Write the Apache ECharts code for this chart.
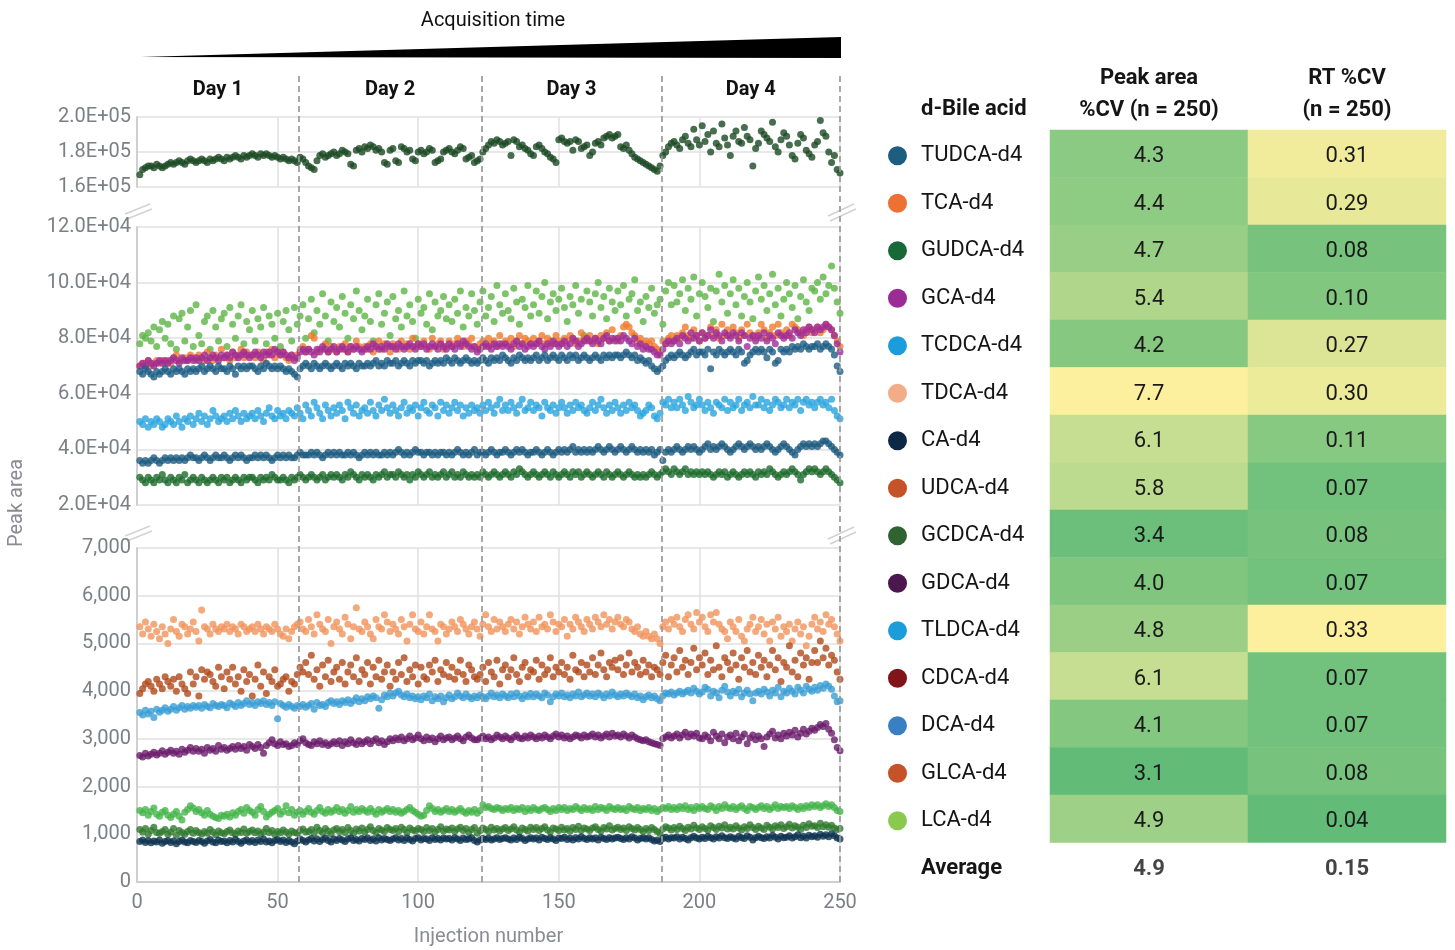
<!DOCTYPE html>
<html><head><meta charset="utf-8">
<script src="https://cdn.jsdelivr.net/npm/echarts@6/dist/echarts.min.js"></script>
<style>html,body{margin:0;padding:0;background:#fff}#c{width:1455px;height:950px}</style>
</head><body><div id="c"></div>
<script>
// ---------------- DATA ----------------
const dayBounds = [0, 57.5, 122.5, 186.5, 250];
const dayLabels = ['Day 1', 'Day 2', 'Day 3', 'Day 4'];

// Table
const acids = ['TUDCA-d4','TCA-d4','GUDCA-d4','GCA-d4','TCDCA-d4','TDCA-d4','CA-d4','UDCA-d4','GCDCA-d4','GDCA-d4','TLDCA-d4','CDCA-d4','DCA-d4','GLCA-d4','LCA-d4'];
const acidColors = ['#1c5d80','#ed7132','#176a37','#9b2b95','#1c9ddb','#f2ac88','#0c2844','#c55229','#2f6331','#4c174f','#1c9ddb','#7f1519','#3a7fc4','#c55229','#8bc94e'];
const peakAreaCV = [4.3,4.4,4.7,5.4,4.2,7.7,6.1,5.8,3.4,4.0,4.8,6.1,4.1,3.1,4.9];
const rtCV = [0.31,0.29,0.08,0.10,0.27,0.30,0.11,0.07,0.08,0.07,0.33,0.07,0.07,0.08,0.04];
const averages = [4.9, 0.15];
const tableHeaders = ['Peak area\n%CV (n = 250)', 'RT %CV\n(n = 250)'];

// Peak areas per injection 1..250 (top & middle panels in thousands, bottom panel raw)
const gudcaK = [
167,170,171,172,172,171,173,172,171,172,
173,174,173,174,175,174,173,175,176,175,
174,175,176,175,174,176,175,176,177,176,
175,177,176,177,178,177,176,178,177,178,
179,178,177,179,178,179,178,177,178,177,
176,177,176,175,176,175,174,177,176,174,
172,171,170,175,178,179,177,178,179,180,
178,179,181,180,179,173,172,181,182,180,
183,182,184,183,181,182,180,174,173,181,
182,175,174,183,182,180,181,176,175,180,
181,179,180,182,181,174,175,176,180,181,
182,180,179,181,183,182,176,177,178,174,
175,176,180,182,184,186,185,187,186,184,
185,186,178,187,186,183,184,182,181,179,
178,183,184,182,180,179,177,176,174,187,
188,186,185,186,181,187,186,182,183,184,
178,180,185,186,184,188,189,190,188,189,
190,183,182,184,181,179,177,176,175,174,
173,172,171,170,169,172,178,180,183,185,
186,184,182,187,189,185,183,193,187,184,
195,186,190,180,192,185,183,196,188,184,
178,189,192,186,185,194,189,187,172,182,
185,192,190,188,186,197,183,180,187,191,
189,184,178,176,185,190,188,181,179,177,
184,186,198,191,189,180,174,178,170,168];

const lcaK = [
78,81,80,82,79,84,77,83,86,80,
85,78,88,76,87,89,79,84,90,77,
92,81,78,86,88,76,90,84,79,87,
89,77,91,85,80,88,92,78,86,83,
90,79,87,84,91,78,88,85,80,89,
77,86,90,83,79,91,85,88,92,80,
87,94,82,90,85,96,88,79,93,86,
91,84,95,89,80,92,87,97,90,83,
88,94,86,79,92,96,85,89,93,81,
95,87,90,84,97,88,92,86,80,94,
89,91,85,96,83,93,88,90,95,87,
92,86,94,89,97,84,91,88,96,90,
85,93,97,88,91,95,86,99,92,89,
96,90,87,98,93,85,94,91,99,88,
92,97,89,95,100,87,93,96,90,94,
98,91,86,95,92,99,89,94,81,97,
93,88,96,100,91,95,87,98,93,90,
97,92,99,88,94,96,101,90,93,86,
95,91,98,89,92,94,85,97,100,92,
99,93,96,101,90,98,94,102,88,96,
100,95,91,98,86,97,103,93,99,89,
96,101,92,98,88,95,100,93,87,97,
102,94,99,90,96,103,92,98,88,94,
100,96,91,99,87,95,101,93,90,98,
97,100,94,102,96,99,106,98,93,89];

const tcaK = [
70,71,71,72,70,71,72,71,72,71,
72,71,73,74,72,72,73,72,74,73,
72,74,73,72,75,73,72,74,73,76,
73,74,72,75,73,74,76,73,75,74,
74,73,75,74,72,75,74,76,73,75,
74,75,73,72,74,73,74,76,77,75,
76,81,80,75,76,76,78,75,77,76,
75,77,76,78,75,77,76,79,77,76,
77,76,78,75,77,79,76,78,77,75,
78,77,76,79,77,78,76,80,77,78,
77,79,77,76,80,77,78,79,76,77,
79,77,78,80,78,77,79,78,80,77,
76,78,79,77,80,78,79,77,81,78,
79,78,80,77,79,81,78,80,79,78,
80,78,79,81,78,80,79,78,81,79,
78,80,79,81,80,78,79,82,80,79,
81,79,80,78,81,80,82,79,83,80,
79,81,84,85,84,82,81,79,80,78,
79,78,79,77,76,75,79,78,80,81,
79,81,80,82,84,81,80,83,81,79,
82,80,81,84,81,83,80,85,81,83,
81,84,82,80,83,81,85,82,81,80,
82,85,83,80,82,84,81,85,82,81,
83,81,85,84,83,82,81,83,84,82,
83,84,82,83,85,84,83,81,79,77];

const gcaK = [
70,71,70,72,71,70,71,72,71,72,
71,72,73,72,71,73,72,72,73,72,
73,72,73,74,72,73,74,73,72,74,
73,74,73,75,74,73,74,75,74,73,
74,75,74,73,75,74,75,74,76,75,
74,75,74,73,74,72,73,75,76,75,
76,75,74,76,75,77,76,75,76,77,
75,76,77,76,75,77,76,77,76,75,
76,77,76,78,77,76,77,76,78,77,
77,76,78,77,76,77,78,77,76,78,
77,78,76,77,78,77,76,78,77,76,
78,77,76,78,77,79,78,77,76,77,
75,76,77,78,77,76,78,77,78,77,
78,77,76,78,79,77,78,76,77,78,
77,78,79,77,76,78,77,79,78,77,
78,79,77,78,80,79,77,78,79,80,
79,78,80,79,78,80,81,79,80,79,
80,79,81,80,79,78,80,77,78,76,
77,76,76,75,74,74,76,78,79,78,
79,80,78,81,80,79,82,80,81,79,
82,80,81,83,80,82,81,79,82,81,
80,82,81,79,82,81,77,80,81,79,
81,80,82,79,81,80,78,82,81,80,
81,82,80,83,82,81,83,82,84,83,
82,84,83,84,85,84,83,81,78,75];

const tudcaK = [
68,67,69,68,67,66,68,67,68,69,
68,67,69,68,69,68,67,69,68,69,
68,69,70,68,69,70,69,68,70,69,
69,68,70,69,67,70,69,70,69,70,
70,69,68,70,69,71,70,69,70,69,
70,69,68,69,68,67,66,69,70,71,
70,69,71,70,69,70,71,70,69,70,
71,70,69,71,70,71,70,69,71,70,
70,71,70,71,72,70,71,70,72,71,
71,72,70,71,72,71,70,72,71,72,
72,71,72,70,71,72,71,72,71,73,
72,71,73,72,71,72,73,72,71,72,
71,72,73,72,71,73,72,73,72,74,
73,72,71,73,72,74,73,72,73,72,
73,74,72,73,74,72,73,74,73,72,
74,73,72,74,73,74,72,73,74,73,
72,73,74,73,72,74,73,74,73,74,
74,73,74,75,74,73,74,72,73,72,
71,72,70,69,68,69,70,72,73,74,
73,74,75,74,73,74,75,76,74,75,
75,74,76,69,75,74,76,75,74,75,
76,75,74,76,75,71,72,74,75,76,
75,76,75,73,76,75,71,72,76,75,
76,75,77,76,77,76,78,77,76,77,
77,78,76,77,78,77,76,74,70,68];

const tcdcaK = [
50,49,51,48,50,49,51,50,48,49,
51,50,49,52,50,48,51,50,52,49,
51,53,50,52,49,51,54,52,50,51,
52,50,53,51,54,52,50,53,51,52,
53,51,54,52,50,53,55,52,51,54,
52,53,51,54,53,52,55,53,51,56,
54,52,57,55,53,51,56,54,52,55,
53,56,54,51,57,55,53,56,52,54,
55,53,57,54,52,56,54,58,55,53,
56,54,52,55,57,53,55,54,56,52,
55,57,54,53,56,55,52,57,54,56,
53,55,57,54,56,52,55,53,56,54,
55,53,56,54,57,55,53,56,58,54,
56,54,57,55,53,56,58,54,55,57,
54,56,55,52,57,55,54,56,53,55,
57,55,53,56,54,57,55,56,54,53,
55,57,54,56,58,55,53,56,54,57,
55,53,56,54,57,55,56,54,52,53,
54,56,55,52,51,53,57,56,58,55,
57,55,58,56,54,59,57,55,56,58,
56,54,57,55,53,57,56,55,58,54,
57,55,56,58,54,56,57,55,59,56,
56,58,55,57,54,56,58,57,55,56,
58,55,57,56,58,54,57,58,56,57,
55,57,58,56,57,55,58,54,52,51];

const dcaK = [
36,35,36,35,36,37,36,35,36,37,
36,37,36,37,36,37,36,37,38,37,
37,36,37,38,37,36,37,38,37,37,
38,37,36,37,38,37,38,37,36,37,
37,38,37,38,37,38,37,36,37,38,
37,38,37,38,37,37,38,39,38,38,
38,39,38,39,38,37,38,39,38,39,
38,39,38,38,39,38,39,38,37,38,
39,38,39,38,39,38,38,39,38,39,
38,39,40,39,38,39,38,39,40,39,
39,38,39,39,38,39,38,39,39,38,
39,38,39,40,39,38,39,38,39,40,
38,39,39,38,39,40,39,38,39,39,
40,39,38,39,40,39,40,39,38,39,
39,40,39,38,39,40,39,38,39,40,
39,40,39,40,41,39,40,39,40,39,
40,39,40,41,40,39,40,41,40,39,
40,41,40,39,40,41,40,39,40,39,
40,39,40,38,39,40,36,39,40,39,
40,41,40,39,40,41,40,41,40,39,
40,41,42,40,41,40,41,42,41,40,
39,40,41,42,41,40,41,42,41,40,
41,40,41,42,41,40,39,40,41,42,
41,40,39,38,40,41,42,41,42,41,
42,41,42,43,43,42,41,40,39,38];

const gcdcaK = [
30,29,28,30,29,28,30,29,31,29,
28,30,29,28,30,29,31,28,29,30,
29,28,30,29,28,29,30,29,28,30,
29,30,28,29,30,29,28,30,29,30,
30,29,28,30,29,30,29,31,30,29,
29,30,29,28,30,29,30,31,30,29,
30,31,30,29,30,31,29,30,31,30,
31,30,29,31,30,32,31,30,29,31,
30,31,30,29,31,30,31,32,30,31,
31,30,32,31,30,31,29,31,30,32,
31,30,31,32,30,31,30,31,32,30,
31,32,30,31,30,32,31,30,31,30,
31,30,32,31,30,31,32,31,30,31,
32,31,30,32,31,33,32,31,30,31,
32,31,30,31,32,31,30,32,31,30,
31,32,31,30,32,31,32,30,31,32,
31,30,31,32,31,30,32,31,30,31,
32,31,30,31,32,31,30,31,30,31,
30,31,32,31,30,31,32,33,32,31,
33,32,31,32,33,31,32,31,32,31,
32,31,32,31,30,31,32,31,32,30,
31,32,31,30,31,32,31,32,31,30,
32,31,32,31,33,32,31,30,31,32,
31,32,33,32,31,29,31,32,33,32,
33,32,31,32,33,32,31,30,29,28];

const tdca = [
5350,5200,5450,5300,5150,5400,5250,5100,5350,5200,
5000,5300,5500,5250,5150,5400,5350,5200,5300,5450,
5250,5050,5700,5350,5300,5200,5400,5300,5250,5350,
5300,5400,5250,5350,5300,5200,5400,5350,5250,5300,
5350,5250,5400,5300,5200,5350,5300,5250,5400,5300,
5200,5150,5300,5100,5250,5350,5400,5450,5300,5250,
5500,5350,5200,5600,5400,5300,5250,5500,5000,5350,
5450,5300,5200,5550,5400,5100,5350,5750,5300,5250,
5450,5350,5200,5100,5500,5350,5300,5600,5450,5250,
5400,5300,5200,5500,5350,5050,5400,5600,5300,5250,
5450,5200,5350,5600,5300,5250,5050,5400,5350,5200,
5300,5450,5350,5250,5500,5400,5300,5200,5350,5450,
5300,5150,5400,5600,5350,5250,5500,5300,5450,5350,
5250,5400,5500,5300,5450,5200,5350,5550,5400,5300,
5450,5250,5550,5350,5400,5300,5600,5450,5250,5400,
5350,5500,5150,5400,5300,5550,5450,5350,5250,5500,
5400,5300,5550,5450,5350,5600,5400,5500,5300,5450,
5550,5400,5350,5500,5450,5300,5250,5350,5200,5150,
5250,5150,5100,5200,5100,5000,5350,5450,5300,5500,
5400,5550,5350,5250,5500,5600,5400,5300,5650,5450,
5550,5350,5250,5600,5450,5650,5400,5300,5250,5100,
5450,5350,5250,5500,5150,5050,5300,5400,5550,5250,
5350,5500,5200,5400,5050,5450,5300,5550,5150,5350,
5250,5400,5050,5300,5450,5200,5350,4950,5150,5400,
5550,5300,5450,5250,5600,5400,5500,5350,5200,5050];

const udca = [
3950,4050,4150,4200,4100,4000,4250,4150,4050,4300,
4200,4100,4250,4000,4300,4150,4050,3950,4400,4150,
4300,3900,4450,4250,4400,4350,4200,4100,4500,4300,
4050,4400,4250,4500,4150,4300,4000,4450,4200,4350,
3900,4250,4550,4100,4400,3950,4300,4200,4450,4100,
4150,4250,4300,4000,4200,4150,4350,4500,4400,4600,
4350,4750,4250,4450,4100,4550,4300,4650,4200,4400,
4500,4250,4600,4150,4400,4550,4300,4700,4200,4450,
4350,4600,4150,4500,4300,4650,4250,4400,4550,4100,
4400,4250,4600,4350,4700,4200,4450,4300,4550,4150,
4500,4300,4250,4550,4400,4650,4200,4450,4350,4600,
4300,4500,4250,4400,4650,4350,4200,4550,4450,4300,
4250,4350,4500,4200,4600,4400,4300,4650,4150,4450,
4550,4300,4450,4700,4350,4200,4500,4600,4300,4450,
4400,4650,4250,4550,4350,4450,4700,4300,4500,4400,
4600,4350,4500,4250,4750,4450,4400,4600,4300,4550,
4400,4700,4350,4550,4800,4450,4300,4600,4500,4650,
4450,4700,4350,4550,4800,4400,4600,4500,4350,4650,
4400,4550,4300,4500,4450,4350,4600,4750,4300,4550,
4700,4400,4850,4500,4650,4350,4600,4900,4450,4700,
4550,4800,4350,4650,4450,4950,4500,4300,4700,4600,
4450,4800,4550,4250,4700,4500,4850,4400,4600,4350,
4750,4500,4650,4300,4550,4850,4450,4700,4200,4600,
4500,4950,4400,4650,4300,4800,4550,4700,4250,4600,
4850,4600,5050,4700,4900,4550,4750,4650,4400,4250];

const tldca = [
3550,3500,3600,3520,3580,3450,3620,3560,3600,3650,
3580,3620,3680,3600,3650,3700,3620,3680,3640,3700,
3660,3700,3640,3720,3680,3650,3740,3700,3680,3720,
3700,3650,3750,3720,3680,3760,3700,3740,3800,3720,
3760,3700,3780,3740,3800,3720,3760,3700,3780,3420,
3740,3700,3660,3720,3680,3640,3700,3680,3720,3660,
3700,3740,3620,3760,3700,3720,3680,3760,3800,3740,
3780,3720,3800,3760,3820,3740,3800,3860,3780,3840,
3800,3880,3840,3900,3860,3640,3820,3920,3880,3960,
3900,3960,4000,3920,3880,3940,3860,3900,3840,3880,
3820,3900,3860,3940,3800,3880,3840,3900,3780,3860,
3920,3840,3880,3960,3900,3860,3940,3880,3840,3900,
3860,3920,3880,3840,3900,3960,3880,3920,3860,3940,
3900,3860,3940,3880,3960,3900,3840,3920,3880,3950,
3880,3940,3900,3860,3960,3920,3780,3880,3940,3900,
3960,3880,3920,3860,3940,3900,3980,3880,3920,3960,
3900,3940,3880,3960,3920,3860,3940,3900,3980,3920,
3880,3940,3900,3960,3920,3880,3940,3860,3900,3820,
3880,3920,3860,3900,3840,3800,3900,3960,3940,3980,
3920,3960,4000,3940,3980,4020,3960,4060,4000,3940,
3980,4080,4040,3900,4000,3960,3860,4020,4100,3980,
3900,4000,3960,4040,3880,3960,4020,3940,3800,3960,
4000,3940,4040,3980,3900,4020,3960,4080,3880,4000,
3960,4060,4000,3940,4080,4020,3960,4100,4040,4000,
4080,4020,4120,4060,4150,4100,4040,3900,3780,3800];

const gdca = [
2650,2620,2700,2640,2680,2720,2660,2700,2750,2680,
2720,2760,2700,2740,2680,2780,2720,2760,2820,2740,
2800,2740,2780,2700,2820,2760,2800,2740,2860,2780,
2820,2760,2800,2840,2780,2860,2800,2840,2760,2880,
2840,2800,2880,2820,2700,2860,2920,2980,2900,2860,
2940,2880,2900,2840,2860,2920,2880,2960,3000,2920,
2880,2860,2940,2900,2960,2880,2920,2860,2900,2940,
2900,2960,2860,2940,2900,2980,2920,2880,2960,2900,
2940,2980,2900,2960,3000,2920,2960,2880,2940,3000,
2960,3020,2980,3040,2960,3000,3060,2980,3020,3080,
3000,2960,3040,2980,3020,2940,3000,3060,2980,3020,
3040,2980,3020,3060,3000,2960,3040,3080,3020,2980,
2980,3020,3060,3000,3040,2980,3020,3080,3040,3000,
3060,3020,2980,3040,3080,3020,3000,3060,3020,3080,
3040,3000,3060,3020,3080,3040,3000,3060,3100,3040,
3080,3020,3060,3000,3040,3080,3060,3020,3080,3040,
3060,3100,3040,3080,3020,3060,3100,3040,3120,3060,
3080,3040,3100,3060,3020,3080,3040,3000,2980,2960,
2980,2940,2920,2900,2880,2860,3000,3040,3080,3020,
3060,3100,3020,3080,3140,3040,3100,3060,3120,3020,
3000,3080,3040,2960,3140,3060,3000,3100,2920,3040,
3080,3000,3120,2960,3040,3100,2900,3020,3080,2980,
3060,3000,2840,3040,3100,3160,3020,3080,3000,3120,
3060,3140,3080,3180,3040,3120,3200,3100,3160,3220,
3180,3240,3300,3260,3320,3200,3120,2980,2820,2750];

const glca = [
1500,1450,1520,1400,1480,1550,1420,1380,1460,1500,
1400,1350,1420,1480,1380,1300,1460,1520,1600,1550,
1480,1520,1450,1400,1500,1420,1380,1350,1330,1400,
1380,1420,1360,1450,1400,1480,1520,1440,1560,1500,
1460,1400,1520,1580,1480,1360,1420,1460,1500,1540,
1420,1480,1600,1450,1520,1400,1460,1500,1420,1480,
1540,1460,1420,1500,1560,1480,1440,1520,1460,1500,
1560,1480,1520,1440,1500,1580,1460,1520,1480,1540,
1500,1460,1540,1480,1420,1520,1460,1500,1540,1480,
1520,1460,1500,1440,1480,1520,1560,1500,1460,1420,
1380,1400,1500,1600,1540,1480,1520,1460,1500,1540,
1480,1520,1460,1500,1540,1480,1440,1500,1460,1520,
1440,1500,1620,1560,1580,1540,1520,1560,1540,1500,
1540,1520,1560,1500,1540,1520,1560,1480,1540,1500,
1560,1520,1500,1540,1560,1520,1480,1540,1500,1560,
1520,1560,1500,1540,1520,1580,1540,1500,1560,1520,
1540,1500,1580,1520,1560,1540,1500,1580,1540,1520,
1560,1520,1540,1500,1580,1540,1520,1560,1500,1540,
1520,1560,1500,1540,1480,1520,1560,1540,1580,1520,
1560,1520,1580,1540,1600,1520,1560,1500,1580,1540,
1580,1540,1520,1600,1560,1500,1580,1540,1620,1560,
1540,1580,1520,1560,1600,1540,1500,1580,1560,1520,
1560,1600,1540,1580,1520,1560,1620,1540,1580,1560,
1580,1540,1600,1560,1520,1580,1540,1600,1560,1620,
1580,1620,1560,1600,1640,1580,1620,1560,1500,1480];

const cdca = [
1100,1050,1120,1000,1080,1150,1040,1020,1060,1100,
1000,1050,1120,980,1080,1040,1000,1060,1100,1020,
1080,1040,1000,1060,1020,1100,1050,990,1070,1030,
1010,1060,1090,1030,1000,1070,1040,1110,1020,1060,
1090,1030,1070,1010,1050,1120,1040,1080,1000,1060,
1030,1090,1050,1000,1070,1040,1020,1080,1110,1050,
1060,1100,1030,1150,1080,1040,1120,1070,1010,1090,
1120,1060,1100,1040,1140,1080,1020,1110,1070,1130,
1050,1100,1160,1080,1040,1120,1090,1060,1140,1100,
1080,1120,1060,1150,1100,1040,1130,1090,1070,1120,
1100,1060,1140,1080,1120,1050,1100,1160,1070,1110,
1090,1130,1060,1110,1150,1080,1120,1040,1100,1140,
1020,1080,1130,1100,1060,1150,1090,1120,1070,1110,
1140,1080,1110,1160,1090,1050,1130,1100,1070,1150,
1100,1140,1080,1120,1160,1090,1050,1130,1110,1080,
1150,1090,1120,1070,1140,1100,1170,1080,1130,1110,
1080,1130,1160,1100,1070,1140,1110,1180,1090,1120,
1150,1100,1130,1080,1160,1120,1090,1140,1100,1060,
1120,1080,1140,1100,1060,1020,1110,1160,1130,1090,
1140,1100,1170,1120,1080,1150,1110,1190,1130,1100,
1160,1120,1090,1180,1140,1100,1170,1130,1200,1110,
1150,1110,1180,1130,1090,1160,1120,1200,1140,1100,
1170,1130,1100,1190,1150,1110,1180,1140,1200,1120,
1160,1210,1130,1180,1150,1100,1190,1140,1220,1170,
1180,1140,1230,1160,1200,1150,1190,1130,1100,1120];

const ca = [
850,880,830,870,820,860,840,880,810,850,
870,830,860,800,850,880,840,820,870,850,
830,870,850,810,860,890,840,820,880,850,
860,820,870,840,890,850,810,860,880,840,
870,830,880,850,900,840,860,820,870,890,
850,880,830,870,840,800,860,900,870,840,
880,910,860,900,850,890,920,870,840,900,
870,910,880,850,900,930,870,890,860,910,
890,920,870,900,860,930,880,910,890,870,
900,930,880,910,870,920,890,860,910,930,
880,910,900,870,930,890,910,880,920,900,
910,880,930,900,870,920,890,900,930,870,
840,880,910,890,920,880,900,930,890,910,
930,900,880,920,890,940,910,870,900,930,
900,920,880,940,910,890,930,900,870,920,
910,940,890,920,880,930,900,950,910,890,
930,900,920,880,940,910,890,930,900,920,
940,910,890,930,900,950,920,880,910,930,
900,930,890,860,880,850,910,940,900,930,
920,950,900,940,910,880,930,960,920,900,
940,910,960,930,900,950,920,970,930,910,
950,920,900,960,930,910,970,940,880,930,
960,930,910,950,920,980,940,900,960,930,
940,970,920,950,990,930,960,920,980,950,
970,940,1000,960,990,950,1010,970,920,900];

// ---------------- CHART ----------------
const plotSeries = [
  {name:'GUDCA-d4', panel:0, unit:1000, color:'#1b4a23', values:gudcaK},
  {name:'LCA-d4',   panel:1, unit:1000, color:'#5db443', values:lcaK},
  {name:'TCA-d4',   panel:1, unit:1000, color:'#ef7a2c', values:tcaK},
  {name:'GCA-d4',   panel:1, unit:1000, color:'#a02c99', values:gcaK},
  {name:'TUDCA-d4', panel:1, unit:1000, color:'#1e5e84', values:tudcaK},
  {name:'TCDCA-d4', panel:1, unit:1000, color:'#29a4de', values:tcdcaK},
  {name:'DCA-d4',   panel:1, unit:1000, color:'#1d5b80', values:dcaK},
  {name:'GCDCA-d4', panel:1, unit:1000, color:'#1e6b2d', values:gcdcaK},
  {name:'TDCA-d4',  panel:2, unit:1, color:'#f1935b', values:tdca},
  {name:'UDCA-d4',  panel:2, unit:1, color:'#b0481a', values:udca},
  {name:'TLDCA-d4', panel:2, unit:1, color:'#3a9ed4', values:tldca},
  {name:'GDCA-d4',  panel:2, unit:1, color:'#6a1c6b', values:gdca},
  {name:'GLCA-d4',  panel:2, unit:1, color:'#44b54a', values:glca},
  {name:'CDCA-d4',  panel:2, unit:1, color:'#2f7a2e', values:cdca},
  {name:'CA-d4',    panel:2, unit:1, color:'#0e3350', values:ca}
];

const FONT = 'Roboto';
const AX = '#7d7f86';
const GRIDC = '#e1e1e1';
const plotLeft = 137, plotWidth = 703;

const grids = [
  {left:plotLeft, width:plotWidth, top:117, height:70},
  {left:plotLeft, width:plotWidth, top:227, height:278},
  {left:plotLeft, width:plotWidth, top:548, height:334},
  {left:plotLeft, width:plotWidth, top:72, height:810},
  {left:1050, width:396, top:130, height:760}
];

function xAx(i, showLabels) {
  return {
    type:'value', gridIndex:i, min:0, max:250, interval:50,
    axisLine:{show:showLabels, lineStyle:{color:'#cfcfcf', width:2}},
    axisTick:{show:false},
    axisLabel:{show:showLabels, fontSize:20, color:AX, margin:11, fontFamily:FONT},
    splitLine:{show:true, lineStyle:{color:GRIDC, width:1.5}},
    name: showLabels ? 'Injection number' : '',
    nameLocation:'middle', nameGap:45,
    nameTextStyle:{fontSize:20, color:'#8a8c92', fontFamily:FONT}
  };
}
function yAx(i, min, max, interval, fmt) {
  return {
    type:'value', gridIndex:i, min:min, max:max, interval:interval,
    axisLine:{show:true, lineStyle:{color:'#cfcfcf', width:2}},
    axisTick:{show:false},
    axisLabel:{fontSize:20, color:AX, margin:6, formatter:fmt, fontFamily:FONT, padding:[6,0,0,0]},
    splitLine:{show:true, lineStyle:{color:GRIDC, width:1.5}}
  };
}

const xAxes = [
  xAx(0,false), xAx(1,false), xAx(2,true),
  {type:'value', gridIndex:3, min:0, max:250, show:false},
  {type:'category', gridIndex:4, data:tableHeaders, position:'top',
   axisLine:{show:false}, axisTick:{show:false},
   axisLabel:{fontSize:22, fontWeight:'bold', color:'#151515', lineHeight:32, margin:4, fontFamily:FONT}}
];
const rowNames = acids.concat(['Average']);
const rich = {n:{fontSize:22, color:'#151515', padding:[0,0,0,14], fontFamily:FONT},
              b:{fontSize:22, color:'#151515', fontWeight:'bold', padding:[0,0,0,33], fontFamily:FONT}};
acidColors.forEach((c,i)=>{ rich['d'+i] = {width:19, height:19, borderRadius:10, backgroundColor:c}; });
const yAxes = [
  yAx(0,160000,200000,20000, v=>(v/1e5).toFixed(1)+'E+05'),
  yAx(1,20000,120000,20000, v=>(v/1e4).toFixed(1)+'E+04'),
  yAx(2,0,7000,1000, v=>v.toLocaleString('en-US')),
  {type:'value', gridIndex:3, min:0, max:1, show:false},
  {type:'category', gridIndex:4, data:rowNames, inverse:true,
   axisLine:{show:false}, axisTick:{show:false}, splitLine:{show:false},
   axisLabel:{align:'left', margin:162, padding:[4,0,0,0],
     formatter:(v, idx)=> idx < acids.length ? `{d${idx}|}{n|${v}}` : `{b|${v}}`, rich:rich}}
];

const series = plotSeries.map(s=>({
  type:'scatter', name:s.name, xAxisIndex:s.panel, yAxisIndex:s.panel,
  symbol:'circle', symbolSize:7, itemStyle:{color:s.color},
  data:s.values.map((v,i)=>[i+1, v*s.unit]), silent:true
}));

// Overlay: day separators and day labels
series.push({
  type:'scatter', xAxisIndex:3, yAxisIndex:3, symbolSize:0, data:[[0,0]], silent:true,
  markLine:{silent:true, symbol:['none','none'], label:{show:false},
    lineStyle:{type:[6,4], color:'#9a9a9a', width:1.7},
    data:dayBounds.slice(1).map(b=>({xAxis:b}))},
  markArea:{silent:true, itemStyle:{color:'rgba(0,0,0,0)'},
    label:{show:true, position:'insideTop', distance:8, fontSize:20, fontWeight:'bold', color:'#111', fontFamily:FONT},
    data:dayLabels.map((d,i)=>[{xAxis:dayBounds[i], name:d},{xAxis:dayBounds[i+1]}])}
});

// Table heatmap columns
[peakAreaCV, rtCV].forEach((arr,col)=>{
  series.push({
    type:'heatmap', xAxisIndex:4, yAxisIndex:4,
    data:arr.map((v,r)=>[col, r, v]),
    label:{show:true, fontSize:22, color:'#1a1a1a', fontFamily:FONT, offset:[0,3],
           formatter:p=>p.value[2].toFixed(col===0?1:2)},
    itemStyle:{borderWidth:0}, silent:true
  });
});
series.push({
  type:'scatter', xAxisIndex:4, yAxisIndex:4, symbolSize:0, silent:true,
  data:averages.map((v,col)=>[col, acids.length, v]),
  label:{show:true, position:'inside', offset:[0,3], fontSize:22, fontWeight:'bold', color:'#151515', fontFamily:FONT,
         formatter:p=>p.value[2].toFixed(p.value[0]===0?1:2)}
});

const hmStart = plotSeries.length + 1;
const visualMap = [
  {type:'continuous', show:false, seriesIndex:hmStart, dimension:2,
   min:Math.min(...peakAreaCV), max:Math.max(...peakAreaCV), inRange:{color:['#62bc78','#fcf09e']}},
  {type:'continuous', show:false, seriesIndex:hmStart+1, dimension:2,
   min:Math.min(...rtCV), max:Math.max(...rtCV), inRange:{color:['#62bc78','#fcf09e']}}
];

const brk = (x1,y1,x2,y2)=>({type:'line', shape:{x1,y1,x2,y2}, style:{stroke:'#d2d2d2', lineWidth:1.5}, silent:true});
const graphic = [
  {type:'polygon', shape:{points:[[141,57],[841,37],[841,58]]}, style:{fill:'#000'}, silent:true},
  {type:'text', x:493, y:21, style:{text:'Acquisition time', fontSize:20, fill:'#111', align:'center', verticalAlign:'middle', fontFamily:FONT}},
  {type:'text', x:17, y:503, rotation:Math.PI/2, style:{text:'Peak area', fontSize:20, fill:'#8a8c92', align:'center', verticalAlign:'middle', fontFamily:FONT}},
  {type:'text', x:921, y:109, style:{text:'d-Bile acid', fontSize:22, fontWeight:'bold', fill:'#151515', align:'left', verticalAlign:'middle', fontFamily:FONT}},
  brk(125,214,150,204), brk(127,219,152,209),
  brk(828,216,854,204), brk(830,221,856,209),
  brk(125,536,150,526), brk(127,541,152,531),
  brk(828,539,854,527), brk(830,544,856,532)
];

const chart = echarts.init(document.getElementById('c'), null, {renderer:'canvas'});
chart.setOption({
  animation:false,
  backgroundColor:'#fff',
  textStyle:{fontFamily:FONT},
  grid:grids, xAxis:xAxes, yAxis:yAxes, series:series, visualMap:visualMap, graphic:graphic
});
</script></body></html>
